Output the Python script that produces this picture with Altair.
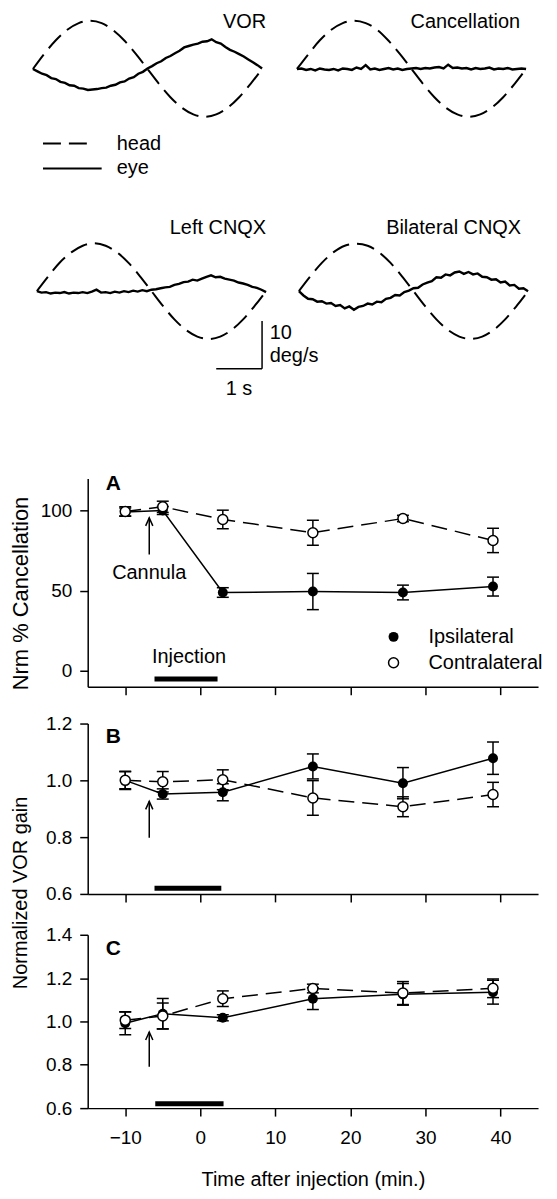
import altair as alt
import pandas as pd

FONT = "Liberation Sans"

# ------------------------------------------------------------------ traces
head_times = [round(0.25 * i, 2) for i in range(21)]   # s
eye_times = [round(0.1 * i, 1) for i in range(51)]     # s

head_vor = [0.0, 3.2, 6.0, 8.2, 9.6, 10.1, 9.6, 8.1, 5.9, 3.1, 0.0, -3.1, -5.9,
            -8.1, -9.5, -10.0, -9.5, -8.1, -5.9, -3.1, 0.0]
eye_vor = [0.0, -0.5, -1.0, -1.3, -1.9, -2.1, -2.7, -2.9, -3.4, -3.5, -4.0, -4.1,
           -4.4, -4.3, -4.2, -4.0, -3.9, -3.5, -3.3, -2.8, -2.6, -2.0, -1.7, -1.0,
           -0.6, 0.1, 0.6, 1.2, 1.6, 2.3, 2.7, 3.3, 3.8, 4.5, 4.8, 5.1, 5.3, 5.7,
           5.8, 6.2, 5.6, 5.3, 4.6, 4.0, 3.6, 3.1, 2.6, 2.0, 1.4, 0.8, 0.1]

head_canc = [0.0, 3.1, 6.0, 8.2, 9.6, 10.1, 9.6, 8.2, 5.9, 3.1, 0.0, -3.1, -5.9,
             -8.1, -9.5, -10.0, -9.5, -8.1, -5.9, -3.1, 0.0]
eye_canc = [0.0, 0.1, -0.2, 0.0, -0.3, 0.1, -0.1, -0.2, 0.0, -0.3, 0.1, 0.0, -0.2,
            0.3, 0.0, 0.8, -0.1, 0.1, -0.2, 0.0, 0.2, -0.1, 0.1, -0.2, 0.0, 0.1,
            0.2, 0.0, 0.2, 0.1, 0.3, 0.4, 0.1, 0.9, 0.2, 0.3, 0.1, 0.2, -0.1, 0.2,
            0.0, 0.1, 0.3, -0.1, 0.1, 0.0, 0.2, -0.1, 0.0, 0.1, 0.0]

head_left = [0.0, 3.1, 6.0, 8.1, 9.5, 10.0, 9.5, 8.1, 5.9, 3.1, 0.0, -3.1, -5.9,
             -8.1, -9.5, -10.0, -9.5, -8.1, -5.9, -3.1, 0.0]
eye_left = [0.0, -0.3, -0.2, -0.5, -0.3, -0.4, -0.2, -0.5, -0.3, -0.4, -0.2, -0.4,
            -0.1, 0.3, -0.3, -0.2, -0.4, -0.1, -0.3, 0.0, -0.2, 0.1, -0.1, 0.2,
            0.0, 0.3, 0.4, 0.6, 0.8, 0.9, 1.3, 1.5, 1.9, 2.0, 2.4, 2.2, 2.6, 3.0,
            3.3, 2.9, 3.0, 2.6, 2.4, 2.2, 1.8, 1.6, 1.3, 0.9, 0.7, 0.3, -0.2]

head_bil = [0.0, 3.1, 5.9, 8.1, 9.5, 9.9, 9.5, 8.1, 5.9, 3.1, 0.0, -3.1, -5.9,
            -8.1, -9.5, -10.0, -9.5, -8.1, -5.9, -3.1, 0.0]
eye_bil = [0.0, -0.9, -1.6, -1.7, -2.2, -2.1, -2.6, -2.5, -3.1, -2.9, -3.6, -3.2,
           -3.9, -3.3, -3.1, -2.6, -2.8, -2.2, -2.3, -1.6, -1.4, -0.8, -0.9, -0.2,
           0.1, 0.6, 0.7, 1.4, 1.8, 2.1, 2.9, 2.8, 3.5, 3.3, 3.9, 4.1, 3.6, 4.0,
           3.5, 3.7, 3.0, 2.9, 2.4, 2.5, 1.8, 2.0, 1.2, 1.3, 0.5, 0.6, 0.0]

trace_legend_labels = ["head", "eye"]
scale_bar_labels = ["10", "deg/s", "1 s"]

# ------------------------------------------------------------------ summary data
times = [-10, -5, 3, 15, 27, 39]

ipsi_A = [99.0, 100.0, 48.8, 49.4, 48.8, 52.5]
ipsi_A_err = [2.5, 2.5, 3.0, 11.3, 4.6, 5.9]
contra_A = [99.4, 102.3, 94.4, 86.1, 95.0, 81.3]
contra_A_err = [3.0, 3.5, 5.8, 7.8, 2.0, 7.6]

ipsi_B = [1.0, 0.952, 0.958, 1.049, 0.99, 1.078]
ipsi_B_err = [0.03, 0.018, 0.03, 0.044, 0.055, 0.057]
contra_B = [1.0, 0.995, 1.002, 0.938, 0.907, 0.95]
contra_B_err = [0.032, 0.036, 0.035, 0.061, 0.035, 0.043]

ipsi_C = [0.992, 1.036, 1.017, 1.105, 1.125, 1.135]
ipsi_C_err = [0.053, 0.07, 0.014, 0.05, 0.05, 0.055]
contra_C = [1.006, 1.025, 1.105, 1.152, 1.131, 1.153]
contra_C_err = [0.038, 0.06, 0.036, 0.02, 0.053, 0.043]

groups = ["Ipsilateral", "Contralateral"]
x_ticks = [-10, 0, 10, 20, 30, 40]


# ------------------------------------------------------------------ trace panels
def trace_panel(title, head, eye, xdom, tdy, tdx, extra=()):
    xs = alt.Scale(domain=xdom, nice=False, zero=False)
    ys = alt.Scale(domain=[-10, 10], nice=False, zero=False)

    def mx(f):
        return alt.X(f, scale=xs, axis=None)

    def my(f):
        return alt.Y(f, scale=ys, axis=None)

    hd = pd.DataFrame({"t": head_times, "v": head})
    ed = pd.DataFrame({"t": eye_times, "v": eye})
    h = alt.Chart(hd).mark_line(color="black", strokeWidth=2, strokeDash=[18, 8],
                                interpolate="monotone").encode(x=mx("t:Q"), y=my("v:Q"))
    e = alt.Chart(ed).mark_line(color="black", strokeWidth=2.4, strokeJoin="miter").encode(
        x=mx("t:Q"), y=my("v:Q"))
    td = pd.DataFrame({"t": [xdom[1]], "v": [10], "s": [title]})
    tt = alt.Chart(td).mark_text(align="right", baseline="alphabetic", dx=tdx, dy=tdy,
                                 fontSize=20, font=FONT, color="black").encode(
        x=mx("t:Q"), y=my("v:Q"), text="s:N")
    layers = [h, e, tt] + [f(mx, my) for f in extra]
    return alt.layer(*layers).properties(width=230, height=96)


def trace_legend(mx, my):
    d = pd.DataFrame({"t": [0.22, 0.22], "t2": [1.33, 1.5], "v": [-15.6, -20.8],
                      "label": trace_legend_labels, "tt": [1.83, 1.83]})
    lines = alt.Chart(d).mark_rule(color="black", strokeWidth=2).encode(
        x=mx("t:Q"), x2="t2:Q", y=my("v:Q"),
        strokeDash=alt.StrokeDash("label:N", scale=alt.Scale(domain=trace_legend_labels,
                                                               range=[[18, 8], [1, 0]]),
                                  legend=None))
    texts = alt.Chart(d).mark_text(align="left", baseline="middle", fontSize=20, font=FONT,
                                   color="black").encode(x=mx("tt:Q"), y=my("v:Q"), text="label:N")
    return alt.layer(lines, texts)


def scale_bar(mx, my):
    v = pd.DataFrame({"t": [4.913], "v": [-6.25], "v2": [-16.25]})
    hz = pd.DataFrame({"t": [3.913], "t2": [4.913], "v": [-16.25]})
    vb = alt.Chart(v).mark_rule(color="black", strokeWidth=1.5).encode(
        x=mx("t:Q"), y=my("v:Q"), y2="v2:Q")
    hb = alt.Chart(hz).mark_rule(color="black", strokeWidth=1.5).encode(
        x=mx("t:Q"), x2="t2:Q", y=my("v:Q"))
    lab = pd.DataFrame({"t": [5.08, 5.08], "v": [-8.75, -13.6], "s": scale_bar_labels[:2]})
    tl = alt.Chart(lab).mark_text(align="left", baseline="middle", fontSize=20, font=FONT,
                                  color="black").encode(x=mx("t:Q"), y=my("v:Q"), text="s:N")
    lab2 = pd.DataFrame({"t": [4.41], "v": [-20.4], "s": scale_bar_labels[2:]})
    tl2 = alt.Chart(lab2).mark_text(align="center", baseline="middle", fontSize=20, font=FONT,
                                    color="black").encode(x=mx("t:Q"), y=my("v:Q"), text="s:N")
    return alt.layer(vb, hb, tl, tl2)


p1 = trace_panel("VOR", head_vor, eye_vor, [0, 5], 7, 4, extra=(trace_legend,))
p2 = trace_panel("Cancellation", head_canc, eye_canc, [0, 5], 7, -6)
p3 = trace_panel("Left CNQX", head_left, eye_left, [-0.087, 4.913], -9, 4, extra=(scale_bar,))
p4 = trace_panel("Bilateral CNQX", head_bil, eye_bil, [-0.043, 4.957], -9, -5)

# nested concat groups have no height of their own under "flush" bounds,
# so the spacing below is measured from the top of one row to the top of the next
traces = alt.vconcat(
    alt.hconcat(p1, p2, spacing=35, bounds="flush"),
    alt.hconcat(p3, p4, spacing=35, bounds="flush"),
    spacing=223, bounds="flush")


# ------------------------------------------------------------------ summary panels
def summary_panel(ipsi, ipsi_err, con, con_err, ydom, height, yticks, yfmt,
                  xlabels, xtitle, ytitle, ytx, yty, ytsize, letter, letter_y,
                  arrow, bar, extra=()):
    rows = []
    for g, m, e in ((groups[0], ipsi, ipsi_err), (groups[1], con, con_err)):
        for t, mm, ee in zip(times, m, e):
            rows.append({"x": t, "y": mm, "err": ee, "group": g})
    df = pd.DataFrame(rows)

    xs = alt.Scale(domain=[-15, 45], nice=False, zero=False)
    ys = alt.Scale(domain=ydom, nice=False, zero=False)
    xax_kw = dict(values=x_ticks, labels=xlabels, grid=False,
                  domainColor="black", domainWidth=1.5, tickColor="black", tickWidth=1.5,
                  tickSize=8, labelFont=FONT, labelFontSize=19, labelColor="black",
                  labelPadding=13, labelFlush=False)
    if xtitle:
        xax_kw.update(title=xtitle, titleFont=FONT, titleFontSize=20, titleFontWeight="normal",
                      titleColor="black", titlePadding=22)
    else:
        xax_kw.update(title=None)
    xaxis = alt.Axis(**xax_kw)
    yax_kw = dict(values=yticks, format=yfmt, grid=False, domainColor="black", domainWidth=1.5,
                  tickColor="black", tickWidth=1.5, tickSize=8, labelFont=FONT,
                  labelFontSize=19, labelColor="black", labelPadding=8, labelFlush=False)
    if ytitle:
        yax_kw.update(title=ytitle, titleFont=FONT, titleFontSize=ytsize,
                      titleFontWeight="normal", titleColor="black", titleAngle=270,
                      titleAlign="center", titleBaseline="middle", titleX=ytx, titleY=yty)
    else:
        yax_kw.update(title=None)
    yaxis = alt.Axis(**yax_kw)

    def mx(f):
        return alt.X(f, scale=xs, axis=xaxis)

    def my(f):
        return alt.Y(f, scale=ys, axis=yaxis)

    base = alt.Chart(df)
    withlims = base.transform_calculate(lo="datum.y - datum.err", hi="datum.y + datum.err")
    err = withlims.mark_rule(color="black", strokeWidth=1.5).encode(
        x=mx("x:Q"), y=my("lo:Q"), y2="hi:Q")
    caps = withlims.transform_fold(["lo", "hi"], as_=["which", "yy"]).mark_tick(
        color="black", thickness=1.5, size=12, orient="horizontal", opacity=1).encode(
        x=mx("x:Q"), y=my("yy:Q"))
    ipsi_line = base.transform_filter(alt.datum.group == groups[0]).mark_line(
        color="black", strokeWidth=1.5).encode(x=mx("x:Q"), y=my("y:Q"))
    con_line = base.transform_filter(alt.datum.group == groups[1]).mark_line(
        color="black", strokeWidth=1.5, strokeDash=[16, 8]).encode(x=mx("x:Q"), y=my("y:Q"))
    ipsi_pts = base.transform_filter(alt.datum.group == groups[0]).mark_circle(
        color="black", size=100, opacity=1).encode(x=mx("x:Q"), y=my("y:Q"))
    con_pts = base.transform_filter(alt.datum.group == groups[1]).mark_circle(
        fill="white", stroke="black", strokeWidth=1.5, size=100, opacity=1).encode(
        x=mx("x:Q"), y=my("y:Q"))

    ax, ay0, ay1 = arrow
    adf = pd.DataFrame({"x": [ax], "y": [ay0], "y2": [ay1]})
    shaft = alt.Chart(adf).mark_rule(color="black", strokeWidth=1.5).encode(
        x=mx("x:Q"), y=my("y:Q"), y2="y2:Q")
    hdf = pd.DataFrame({"x": [ax], "y": [ay1]})
    head = alt.Chart(hdf).mark_point(shape="M-0.9,2L0,0L0.9,2", size=64, filled=False,
                                     color="black", strokeWidth=1.5, opacity=1).encode(
        x=mx("x:Q"), y=my("y:Q"))
    bx0, bx1, by = bar
    bdf = pd.DataFrame({"x": [bx0], "x2": [bx1], "y": [by]})
    barl = alt.Chart(bdf).mark_rule(color="black", strokeWidth=5, strokeCap="butt").encode(
        x=mx("x:Q"), x2="x2:Q", y=my("y:Q"))
    ldf = pd.DataFrame({"x": [-11.6], "y": [letter_y], "s": [letter]})
    let = alt.Chart(ldf).mark_text(fontSize=21, fontWeight="bold", font=FONT, color="black",
                                   align="center", baseline="middle").encode(
        x=mx("x:Q"), y=my("y:Q"), text="s:N")
    layers = [err, caps, ipsi_line, con_line, ipsi_pts, con_pts, shaft, head, barl, let]
    layers += [f(mx, my) for f in extra]
    return alt.layer(*layers).properties(width=452, height=height)


def panel_a_notes(mx, my):
    notes = pd.DataFrame({"x": [-6.8, -1.5], "y": [61.2, 8.3], "s": ["Cannula", "Injection"]})
    t = alt.Chart(notes).mark_text(fontSize=20, font=FONT, color="black", align="center",
                                   baseline="middle").encode(x=mx("x:Q"), y=my("y:Q"), text="s:N")
    leg = pd.DataFrame({"x": [25.75, 25.75], "y": [21.1, 4.95], "group": groups,
                        "tx": [30.4, 30.4]})
    lp1 = alt.Chart(leg).transform_filter(alt.datum.group == groups[0]).mark_circle(
        color="black", size=100, opacity=1).encode(x=mx("x:Q"), y=my("y:Q"))
    lp2 = alt.Chart(leg).transform_filter(alt.datum.group == groups[1]).mark_circle(
        fill="white", stroke="black", strokeWidth=1.5, size=100, opacity=1).encode(
        x=mx("x:Q"), y=my("y:Q"))
    lt = alt.Chart(leg).mark_text(fontSize=20, font=FONT, color="black", align="left",
                                  baseline="middle").encode(
        x=mx("tx:Q"), y=my("y:Q"), text="group:N")
    return alt.layer(t, lp1, lp2, lt)


panel_A = summary_panel(ipsi_A, ipsi_A_err, contra_A, contra_A_err, [-10, 120], 209,
                        [0, 50, 100], "d", False, None, "Nrm % Cancellation", -67, 115, 22,
                        "A", 116.3, (-6.8, 72.6, 95.4), (-6.1, 2.3, -5.2),
                        extra=(panel_a_notes,))
panel_B = summary_panel(ipsi_B, ipsi_B_err, contra_B, contra_B_err, [0.6, 1.2], 171,
                        [0.6, 0.8, 1.0, 1.2], ".1f", False, None, "Normalized VOR gain",
                        -67, 169.5, 20, "B", 1.151, (-6.8, 0.798, 0.926), (-6.1, 2.8, 0.62))
panel_C = summary_panel(ipsi_C, ipsi_C_err, contra_C, contra_C_err, [0.6, 1.4], 174,
                        [0.6, 0.8, 1.0, 1.2, 1.4], ".1f", True, "Time after injection (min.)",
                        None, 0, 0, 20, "C", 1.336, (-6.8, 0.791, 0.951), (-6.0, 3.1, 0.62))

spacer = alt.Chart(pd.DataFrame({"v": [0]})).mark_point(opacity=0).encode(
    x=alt.X("v:Q", axis=None), y=alt.Y("v:Q", axis=None)).properties(width=55, height=10)

summary = alt.hconcat(
    spacer,
    alt.vconcat(alt.vconcat(panel_A, panel_B, spacing=37, bounds="flush"), panel_C,
                spacing=458, bounds="flush"),
    spacing=0, bounds="flush")

chart = alt.vconcat(traces, summary, spacing=459, bounds="flush").properties(
    padding={"left": 2, "top": 2, "right": 6, "bottom": 4}, background="white"
).configure_view(stroke=None)

chart.save("out.html", embed_options={"renderer": "svg", "actions": False})
